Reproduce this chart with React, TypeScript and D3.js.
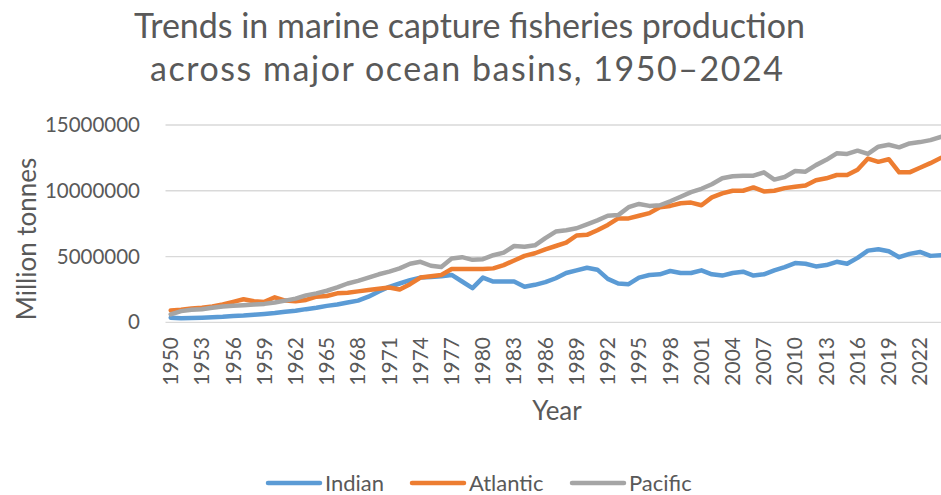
import React from "react";
import * as d3 from "d3";

const years: number[] = d3.range(1950, 2025);

const indian: number[] = [
  0.35, 0.3, 0.32, 0.35, 0.38, 0.42, 0.48, 0.52, 0.58, 0.64,
  0.7, 0.8, 0.88, 1.0, 1.1, 1.25, 1.35, 1.5, 1.65, 1.95,
  2.35, 2.7, 2.95, 3.2, 3.4, 3.45, 3.5, 3.6, 3.1, 2.6,
  3.4, 3.1, 3.1, 3.1, 2.7, 2.85, 3.05, 3.35, 3.75, 3.95,
  4.15, 4.0, 3.3, 2.95, 2.9, 3.4, 3.6, 3.65, 3.9, 3.75,
  3.75, 3.95, 3.65, 3.55, 3.75, 3.85, 3.55, 3.65, 3.95, 4.2,
  4.5, 4.45, 4.25, 4.35, 4.6, 4.45, 4.9, 5.45, 5.55, 5.4,
  4.95, 5.2, 5.35, 5.05, 5.1,
];

const atlantic: number[] = [
  0.9, 0.95, 1.05, 1.1, 1.2, 1.35, 1.55, 1.75, 1.6, 1.55,
  1.9, 1.65, 1.6, 1.7, 1.95, 2.0, 2.2, 2.25, 2.35, 2.45,
  2.55, 2.65, 2.5, 2.9, 3.4, 3.5, 3.6, 4.05, 4.05, 4.05,
  4.05, 4.1, 4.35, 4.7, 5.05, 5.25, 5.55, 5.8, 6.05, 6.6,
  6.65, 7.0, 7.4, 7.9, 7.9, 8.1, 8.3, 8.75, 8.85, 9.05,
  9.1, 8.9, 9.5, 9.8, 10.0, 10.0, 10.25, 9.95, 10.0, 10.2,
  10.3, 10.4, 10.8, 10.95, 11.2, 11.2, 11.6, 12.45, 12.2, 12.4,
  11.4, 11.4, 11.75, 12.1, 12.5,
];

const pacific: number[] = [
  0.6, 0.85, 0.95, 1.0, 1.1, 1.2, 1.25, 1.3, 1.35, 1.4,
  1.5, 1.65, 1.8, 2.05, 2.2, 2.4, 2.65, 2.95, 3.15, 3.4,
  3.65, 3.85, 4.1, 4.45, 4.6, 4.3, 4.2, 4.85, 4.95, 4.75,
  4.8, 5.1, 5.3, 5.8, 5.75, 5.85, 6.4, 6.9, 7.0, 7.15,
  7.45, 7.75, 8.1, 8.15, 8.75, 9.0, 8.85, 8.9, 9.2, 9.55,
  9.9, 10.15, 10.5, 10.95, 11.1, 11.15, 11.15, 11.4, 10.85, 11.05,
  11.5, 11.45, 11.95, 12.35, 12.85, 12.8, 13.05, 12.8, 13.35, 13.5,
  13.3, 13.6, 13.7, 13.85, 14.1,
];

const yTicks: number[] = [0, 5000000, 10000000, 15000000];
const xTickYears: number[] = years.filter((y) => (y - 1950) % 3 === 0);

const seriesNames: string[] = ["Indian", "Atlantic", "Pacific"];
const seriesColors: string[] = ["#5B9BD5", "#ED7D31", "#A5A5A5"];
const seriesValues: number[][] = [indian, atlantic, pacific];

const FONT = "Lato, 'Open Sans', sans-serif";
const TEXT = "#595959";

export default function App() {
  const W = 941;
  const H = 495;
  const x = d3.scaleBand<number>().domain(years).range([165.5, 946]);
  const y = d3.scaleLinear().domain([0, 15000000]).range([322.3, 125]);
  const cx = (yr: number) => (x(yr) as number) + x.bandwidth() / 2;

  const line = d3
    .line<number>()
    .x((_, i) => cx(years[i]))
    .y((v) => y(v * 1000000));

  const legendX = [266, 410, 570];

  return (
    <svg
      width={W}
      height={H}
      style={{ position: "absolute", left: 0, top: 0, background: "#fff" }}
      fontFamily={FONT}
    >
      <rect x={0} y={0} width={W} height={H} fill="#fff" />
      <text x={134} y={38} fontSize={34} fill={TEXT} textLength={671}>
        Trends in marine capture fisheries production
      </text>
      <text x={150} y={81} fontSize={34} fill={TEXT} textLength={633}>
        across major ocean basins, 1950–2024
      </text>

      {yTicks.map((t) => (
        <g key={t}>
          <line x1={165.5} x2={946} y1={y(t)} y2={y(t)} stroke="#D9D9D9" strokeWidth={1.3} />
          <text x={140} y={y(t)} dy="0.35em" textAnchor="end" fontSize={20.5} fill={TEXT}>
            {t}
          </text>
        </g>
      ))}

      {xTickYears.map((yr) => (
        <text
          key={yr}
          transform={`translate(${cx(yr)},337) rotate(-90)`}
          textAnchor="end"
          dy="0.35em"
          fontSize={21}
          fill={TEXT}
        >
          {yr}
        </text>
      ))}

      <text
        transform="translate(27,239) rotate(-90)"
        textAnchor="middle"
        dy="0.35em"
        fontSize={26}
        fill={TEXT}
      >
        Million tonnes
      </text>
      <text x={557} y={420} textAnchor="middle" fontSize={26} fill={TEXT}>
        Year
      </text>

      {seriesValues.map((vals, i) => (
        <path
          key={seriesNames[i]}
          d={line(vals) || ""}
          fill="none"
          stroke={seriesColors[i]}
          strokeWidth={4.5}
          strokeLinejoin="round"
          strokeLinecap="round"
        />
      ))}

      {seriesNames.map((n, i) => (
        <g key={n}>
          <line
            x1={legendX[i] + 2}
            x2={legendX[i] + 54}
            y1={483}
            y2={483}
            stroke={seriesColors[i]}
            strokeWidth={4.5}
            strokeLinecap="round"
          />
          <text x={legendX[i] + 59} y={483} dy="0.35em" fontSize={22} fill={TEXT}>
            {n}
          </text>
        </g>
      ))}
    </svg>
  );
}
